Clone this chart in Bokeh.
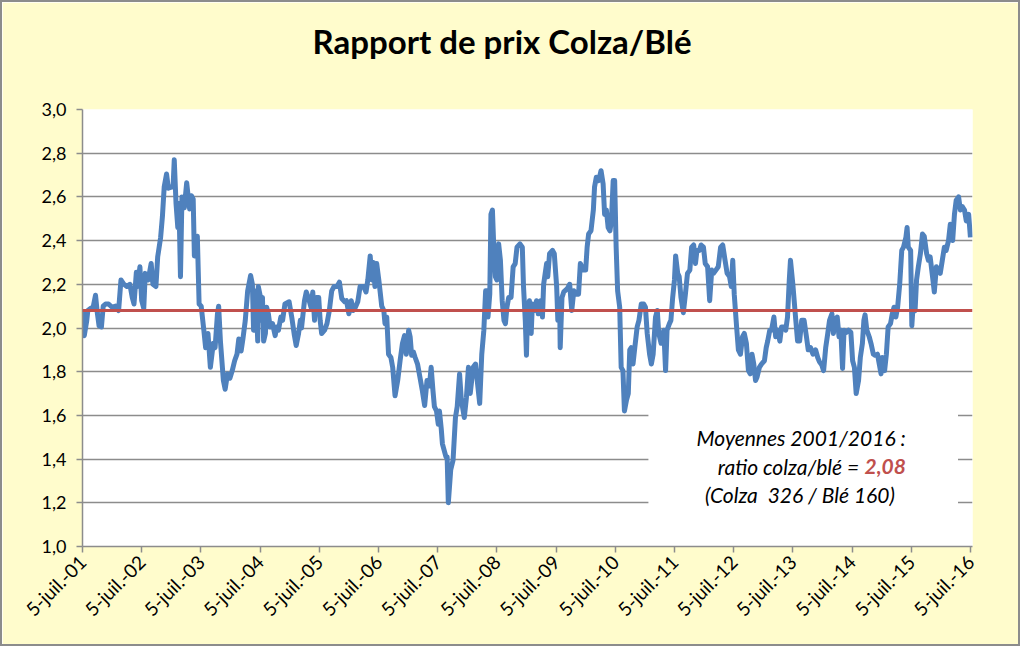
import math
from bokeh.plotting import figure
from bokeh.models import (FixedTicker, CustomJSTickFormatter, Span, BoxAnnotation,
                          Label, Range1d)
from bokeh.embed import file_html
from bokeh.resources import INLINE

# ---------------- data (decimal years, colza/wheat price ratio) ----------------
title_text = "Rapport de prix Colza/Blé"

years_2001_2004 = [
    2001.52, 2001.54, 2001.58, 2001.60, 2001.65, 2001.69, 2001.73, 2001.76, 2001.79, 2001.83,
    2001.86, 2001.90, 2001.95, 2002.01, 2002.07, 2002.12, 2002.16, 2002.21, 2002.26, 2002.31,
    2002.35, 2002.38, 2002.42, 2002.44, 2002.48, 2002.51, 2002.545, 2002.57, 2002.62, 2002.67,
    2002.70, 2002.75, 2002.78, 2002.83, 2002.86, 2002.89, 2002.93, 2002.96, 2003.01, 2003.04,
    2003.06, 2003.09, 2003.12, 2003.14, 2003.165, 2003.19, 2003.23, 2003.27, 2003.29, 2003.32,
    2003.35, 2003.38, 2003.40, 2003.45, 2003.48, 2003.515, 2003.56, 2003.59, 2003.63, 2003.67,
    2003.72, 2003.75, 2003.79, 2003.81, 2003.84, 2003.89, 2003.92, 2003.96, 2004.00, 2004.04,
    2004.08, 2004.12, 2004.15, 2004.19, 2004.22, 2004.26, 2004.30, 2004.35, 2004.38, 2004.40,
    2004.44, 2004.47,
]
ratio_2001_2004 = [
    2.08, 1.965, 2.03, 2.08, 2.09, 2.095, 2.15, 2.07, 2.01, 2.005,
    2.10, 2.11, 2.11, 2.095, 2.10, 2.08, 2.22, 2.20, 2.19, 2.20,
    2.14, 2.11, 2.255, 2.19, 2.28, 2.125, 2.09, 2.25, 2.22, 2.295,
    2.20, 2.19, 2.325, 2.415, 2.51, 2.645, 2.705, 2.64, 2.645, 2.645,
    2.77, 2.57, 2.46, 2.57, 2.235, 2.60, 2.55, 2.665, 2.615, 2.545,
    2.605, 2.59, 2.33, 2.42, 2.11, 2.10, 1.99, 1.91, 1.975, 1.82,
    1.93, 1.91, 2.065, 2.10, 1.94, 1.76, 1.72, 1.79, 1.77, 1.805,
    1.85, 1.88, 1.95, 1.895, 1.95, 2.035, 2.17, 2.24, 2.20, 1.99,
    2.17, 1.94,
]

years_2004_2007 = [
    2004.48, 2004.51, 2004.53, 2004.55, 2004.57, 2004.60, 2004.62, 2004.65, 2004.68, 2004.72,
    2004.765, 2004.79, 2004.82, 2004.86, 2004.89, 2004.93, 2005.00, 2005.045, 2005.09, 2005.12,
    2005.16, 2005.19, 2005.21, 2005.26, 2005.29, 2005.33, 2005.37, 2005.40, 2005.43, 2005.46,
    2005.50, 2005.525, 2005.55, 2005.60, 2005.64, 2005.68, 2005.72, 2005.76, 2005.81, 2005.85,
    2005.89, 2005.94, 2005.97, 2006.01, 2006.05, 2006.08, 2006.12, 2006.16, 2006.20, 2006.26,
    2006.30, 2006.33, 2006.37, 2006.40, 2006.425, 2006.45, 2006.48, 2006.52, 2006.565, 2006.60,
    2006.62, 2006.65, 2006.68, 2006.72, 2006.75, 2006.79, 2006.835, 2006.875, 2006.915, 2006.95,
    2006.98, 2007.02, 2007.045, 2007.07, 2007.10, 2007.13, 2007.17, 2007.21, 2007.25, 2007.29,
    2007.33, 2007.37, 2007.40,
]
ratio_2004_2007 = [
    2.19, 2.15, 2.035, 2.14, 1.94, 1.975, 2.095, 2.065, 2.005, 2.02,
    1.965, 2.005, 1.99, 2.05, 2.035, 2.11, 2.12, 2.05, 1.965, 1.92,
    1.975, 2.035, 2.00, 2.125, 2.165, 2.135, 2.095, 2.165, 2.035, 2.14,
    2.14, 2.035, 1.975, 1.99, 2.02, 2.08, 2.17, 2.19, 2.19, 2.21,
    2.135, 2.12, 2.125, 2.065, 2.125, 2.08, 2.095, 2.12, 2.19, 2.19,
    2.165, 2.22, 2.33, 2.22, 2.30, 2.19, 2.295, 2.21, 2.10, 2.08,
    2.02, 2.05, 1.88, 1.865, 1.82, 1.69, 1.76, 1.85, 1.93, 1.965,
    1.88, 1.99, 1.96, 1.875, 1.89, 1.865, 1.835, 1.775, 1.715, 1.645,
    1.76, 1.735, 1.82,
]

years_2007_2011 = [
    2007.43, 2007.455, 2007.49, 2007.52, 2007.54, 2007.57, 2007.59, 2007.65, 2007.67, 2007.69,
    2007.73, 2007.77, 2007.81, 2007.84, 2007.88, 2007.91, 2007.96, 2007.995, 2008.03, 2008.06,
    2008.11, 2008.15, 2008.19, 2008.22, 2008.255, 2008.29, 2008.32, 2008.35, 2008.36, 2008.39,
    2008.41, 2008.435, 2008.46, 2008.485, 2008.51, 2008.54, 2008.57, 2008.60, 2008.63, 2008.655,
    2008.68, 2008.71, 2008.75, 2008.785, 2008.82, 2008.85, 2008.90, 2008.94, 2008.96, 2008.99,
    2009.01, 2009.03, 2009.06, 2009.09, 2009.11, 2009.145, 2009.18, 2009.21, 2009.25, 2009.28,
    2009.30, 2009.35, 2009.37, 2009.40, 2009.45, 2009.48, 2009.52, 2009.54, 2009.57, 2009.58,
    2009.61, 2009.64, 2009.70, 2009.74, 2009.775, 2009.81, 2009.855, 2009.89, 2009.92, 2009.97,
    2010.01, 2010.035, 2010.06, 2010.10, 2010.14, 2010.16, 2010.19, 2010.23, 2010.27, 2010.305,
    2010.33, 2010.36, 2010.39, 2010.42, 2010.445, 2010.475, 2010.50, 2010.525, 2010.55, 2010.585,
    2010.61, 2010.64, 2010.665, 2010.70, 2010.73, 2010.755, 2010.78, 2010.81, 2010.84, 2010.88,
    2010.91, 2010.95, 2010.99, 2011.02, 2011.05, 2011.09, 2011.12, 2011.15, 2011.19, 2011.22,
    2011.245,
]
ratio_2007_2011 = [
    1.715, 1.64, 1.62, 1.56, 1.62, 1.54, 1.47, 1.41, 1.41, 1.20,
    1.35, 1.395, 1.59, 1.64, 1.79, 1.67, 1.59, 1.68, 1.82, 1.70,
    1.82, 1.835, 1.73, 1.655, 1.88, 1.99, 2.17, 2.17, 2.05, 2.155,
    2.52, 2.54, 2.355, 2.235, 2.22, 2.385, 2.31, 2.125, 2.035, 2.02,
    2.095, 2.14, 2.14, 2.28, 2.295, 2.37, 2.385, 2.37, 2.19, 2.035,
    1.875, 2.095, 2.125, 1.975, 2.11, 2.08, 2.125, 2.065, 2.125, 2.05,
    2.20, 2.295, 2.235, 2.34, 2.355, 2.34, 2.19, 2.035, 2.125, 1.91,
    2.14, 2.165, 2.18, 2.20, 2.08, 2.17, 2.155, 2.155, 2.295, 2.265,
    2.265, 2.37, 2.43, 2.445, 2.54, 2.645, 2.69, 2.675, 2.72, 2.66,
    2.52, 2.54, 2.46, 2.445, 2.49, 2.675, 2.675, 2.37, 2.17, 2.095,
    1.82, 1.805, 1.62, 1.67, 1.70, 1.90, 1.91, 1.835, 1.91, 2.005,
    2.035, 2.11, 2.11, 2.095, 1.975, 1.88, 1.835, 1.88, 2.05, 2.08,
    1.975,
]

years_2011_2013 = [
    2011.285, 2011.33, 2011.36, 2011.385, 2011.425, 2011.45, 2011.48, 2011.51, 2011.53, 2011.565,
    2011.59, 2011.62, 2011.66, 2011.695, 2011.73, 2011.77, 2011.80, 2011.835, 2011.865, 2011.89,
    2011.93, 2011.96, 2012.00, 2012.03, 2012.07, 2012.105, 2012.14, 2012.17, 2012.21, 2012.25,
    2012.29, 2012.325, 2012.365, 2012.40, 2012.44, 2012.47, 2012.495, 2012.52, 2012.56, 2012.59,
    2012.625, 2012.66, 2012.69, 2012.725, 2012.76, 2012.79, 2012.82, 2012.85, 2012.88, 2012.905,
    2012.945, 2012.98, 2013.03, 2013.06, 2013.085, 2013.12, 2013.15, 2013.19, 2013.22, 2013.255,
    2013.29, 2013.32, 2013.355, 2013.39, 2013.42, 2013.45, 2013.47, 2013.51,
]
ratio_2011_2013 = [
    1.93, 1.99, 1.805, 1.99, 2.02, 2.035, 2.14, 2.22, 2.33, 2.25,
    2.235, 2.14, 2.07, 2.155, 2.25, 2.265, 2.37, 2.38, 2.295, 2.355,
    2.355, 2.38, 2.37, 2.295, 2.28, 2.125, 2.265, 2.25, 2.265, 2.28,
    2.37, 2.38, 2.31, 2.25, 2.235, 2.19, 2.31, 2.155, 2.005, 1.90,
    1.88, 1.96, 1.975, 1.93, 1.805, 1.79, 1.88, 1.835, 1.76, 1.775,
    1.82, 1.835, 1.85, 1.91, 1.94, 1.99, 1.99, 2.05, 1.96, 1.99,
    1.94, 2.005, 2.005, 1.99, 2.05, 2.22, 2.31, 2.20,
]

years_2013_2016 = [
    2013.56, 2013.59, 2013.625, 2013.66, 2013.70, 2013.74, 2013.77, 2013.81, 2013.85, 2013.895,
    2013.93, 2013.96, 2014.00, 2014.03, 2014.065, 2014.10, 2014.13, 2014.17, 2014.195, 2014.22,
    2014.26, 2014.29, 2014.32, 2014.35, 2014.375, 2014.415, 2014.45, 2014.49, 2014.52, 2014.55,
    2014.58, 2014.62, 2014.65, 2014.685, 2014.71, 2014.73, 2014.76, 2014.80, 2014.83, 2014.87,
    2014.90, 2014.94, 2014.97, 2015.00, 2015.02, 2015.06, 2015.09, 2015.12, 2015.16, 2015.19,
    2015.22, 2015.25, 2015.28, 2015.315, 2015.35, 2015.38, 2015.42, 2015.44, 2015.46, 2015.50,
    2015.52, 2015.54, 2015.575, 2015.60, 2015.63, 2015.665, 2015.70, 2015.73, 2015.77, 2015.80,
    2015.83, 2015.87, 2015.90, 2015.935, 2015.97, 2016.00, 2016.035, 2016.07, 2016.10, 2016.14,
    2016.17, 2016.21, 2016.24, 2016.27, 2016.31, 2016.34, 2016.375, 2016.41, 2016.44, 2016.48,
    2016.51,
]
ratio_2013_2016 = [
    2.035, 1.94, 1.94, 2.035, 2.035, 1.96, 1.90, 1.91, 1.88, 1.90,
    1.865, 1.845, 1.83, 1.805, 1.91, 1.975, 2.035, 2.065, 1.975, 2.035,
    2.05, 1.96, 1.99, 1.815, 1.99, 1.98, 1.99, 1.98, 1.85, 1.82,
    1.70, 1.76, 1.865, 1.93, 2.035, 2.06, 1.99, 1.96, 1.93, 1.88,
    1.875, 1.88, 1.835, 1.79, 1.865, 1.805, 1.88, 2.005, 2.02, 2.065,
    2.095, 2.05, 2.095, 2.20, 2.355, 2.37, 2.415, 2.46, 2.37, 2.355,
    2.01, 2.095, 2.08, 2.22, 2.28, 2.34, 2.43, 2.42, 2.34, 2.31,
    2.325, 2.235, 2.165, 2.28, 2.265, 2.25, 2.31, 2.37, 2.355, 2.40,
    2.475, 2.40, 2.52, 2.585, 2.60, 2.54, 2.555, 2.54, 2.49, 2.52,
    2.415,
]

mean_ratio = 2.08

x_ticks = [2001.51, 2002.51, 2003.51, 2004.51, 2005.51, 2006.51, 2007.51, 2008.51,
           2009.51, 2010.51, 2011.51, 2012.51, 2013.51, 2014.51, 2015.51, 2016.51]
x_tick_labels = ["5-juil.-01", "5-juil.-02", "5-juil.-03", "5-juil.-04", "5-juil.-05",
                 "5-juil.-06", "5-juil.-07", "5-juil.-08", "5-juil.-09", "5-juil.-10",
                 "5-juil.-11", "5-juil.-12", "5-juil.-13", "5-juil.-14", "5-juil.-15",
                 "5-juil.-16"]
y_ticks = [1.0, 1.2, 1.4, 1.6, 1.8, 2.0, 2.2, 2.4, 2.6, 2.8, 3.0]
y_tick_labels = ["1,0", "1,2", "1,4", "1,6", "1,8", "2,0", "2,2", "2,4", "2,6", "2,8", "3,0"]

note_line1 = "Moyennes 2001/2016 :"
note_line2 = "ratio colza/blé ="
note_value = "2,08"
note_line3 = "(Colza\u00a0 326 / Blé 160)"

years = years_2001_2004 + years_2004_2007 + years_2007_2011 + years_2011_2013 + years_2013_2016
ratio = ratio_2001_2004 + ratio_2004_2007 + ratio_2007_2011 + ratio_2011_2013 + ratio_2013_2016
assert len(years) == len(ratio)

# ---------------- styling ----------------
FONT = "Lato"
BLUE = "#4F81BD"
RED = "#C0504D"
GRID = "#8C8C8C"
CREAM = "#FFFCCC"

p = figure(width=1020, height=646, output_backend="svg", toolbar_location=None,
           x_range=Range1d(2001.51, 2016.545), y_range=Range1d(1.0, 3.0),
           min_border_left=80, min_border_right=50, min_border_top=107, min_border_bottom=102,
           background_fill_color="white", border_fill_color=CREAM,
           outline_line_color=None, title=title_text + "\n\u00a0")
p.styles = {"border": "2px solid #8C8C8C"}

p.title.text_font = FONT
p.title.text_font_size = "33px"
p.title.text_font_style = "bold"
p.title.text_color = "black"
p.title.align = "left"
p.title.offset = 230
p.title.standoff = 18

label_formatter = """
let best = 0, bd = 1e9;
for (let i = 0; i < tick_pos.length; i++) {
  const d = Math.abs(tick_pos[i] - tick);
  if (d < bd) { bd = d; best = i; }
}
return tick_text[best];
"""

p.xaxis.ticker = FixedTicker(ticks=x_ticks)
p.xaxis.formatter = CustomJSTickFormatter(args=dict(tick_pos=x_ticks, tick_text=x_tick_labels),
                                          code=label_formatter)
p.yaxis.ticker = FixedTicker(ticks=y_ticks)
p.yaxis.formatter = CustomJSTickFormatter(args=dict(tick_pos=y_ticks, tick_text=y_tick_labels),
                                          code=label_formatter)
p.xaxis.major_label_orientation = math.pi / 4

for ax in (p.xaxis, p.yaxis):
    ax.axis_line_color = GRID
    ax.axis_line_width = 1.5
    ax.major_tick_line_color = GRID
    ax.major_tick_line_width = 1.5
    ax.major_tick_out = 6
    ax.major_tick_in = 0
    ax.minor_tick_out = 0
    ax.minor_tick_in = 0
    ax.major_label_text_font = FONT
    ax.major_label_text_color = "black"
p.yaxis.major_label_text_font_size = "18px"
p.xaxis.major_label_text_font_size = "19px"
p.yaxis.major_label_standoff = 10
p.xaxis.major_label_standoff = 6

p.xgrid.visible = False
p.ygrid.grid_line_color = GRID
p.ygrid.grid_line_width = 1.3

p.line(years, ratio, line_color=BLUE, line_width=5, line_join="round")

p.add_layout(Span(location=mean_ratio, dimension="width", line_color=RED, line_width=3))

p.add_layout(BoxAnnotation(left=2011.07, right=2016.30, bottom=1.10, top=1.645,
                           fill_color="white", fill_alpha=1.0, line_color=None))

common = dict(text_font=FONT, text_font_size="21px", text_font_style="italic",
              text_baseline="middle", text_color="black")
p.add_layout(Label(x=2013.65, y=1.499, text=note_line1, text_align="center", **common))
p.add_layout(Label(x=2014.63, y=1.366, text=note_line2, text_align="right", **common))
p.add_layout(Label(x=2014.72, y=1.366, text=note_value, text_align="left",
                   text_font=FONT, text_font_size="21px", text_font_style="bold italic",
                   text_baseline="middle", text_color=RED))
p.add_layout(Label(x=2013.63, y=1.238, text=note_line3, text_align="center", **common))

open("out.html", "w").write(file_html(p, INLINE))
